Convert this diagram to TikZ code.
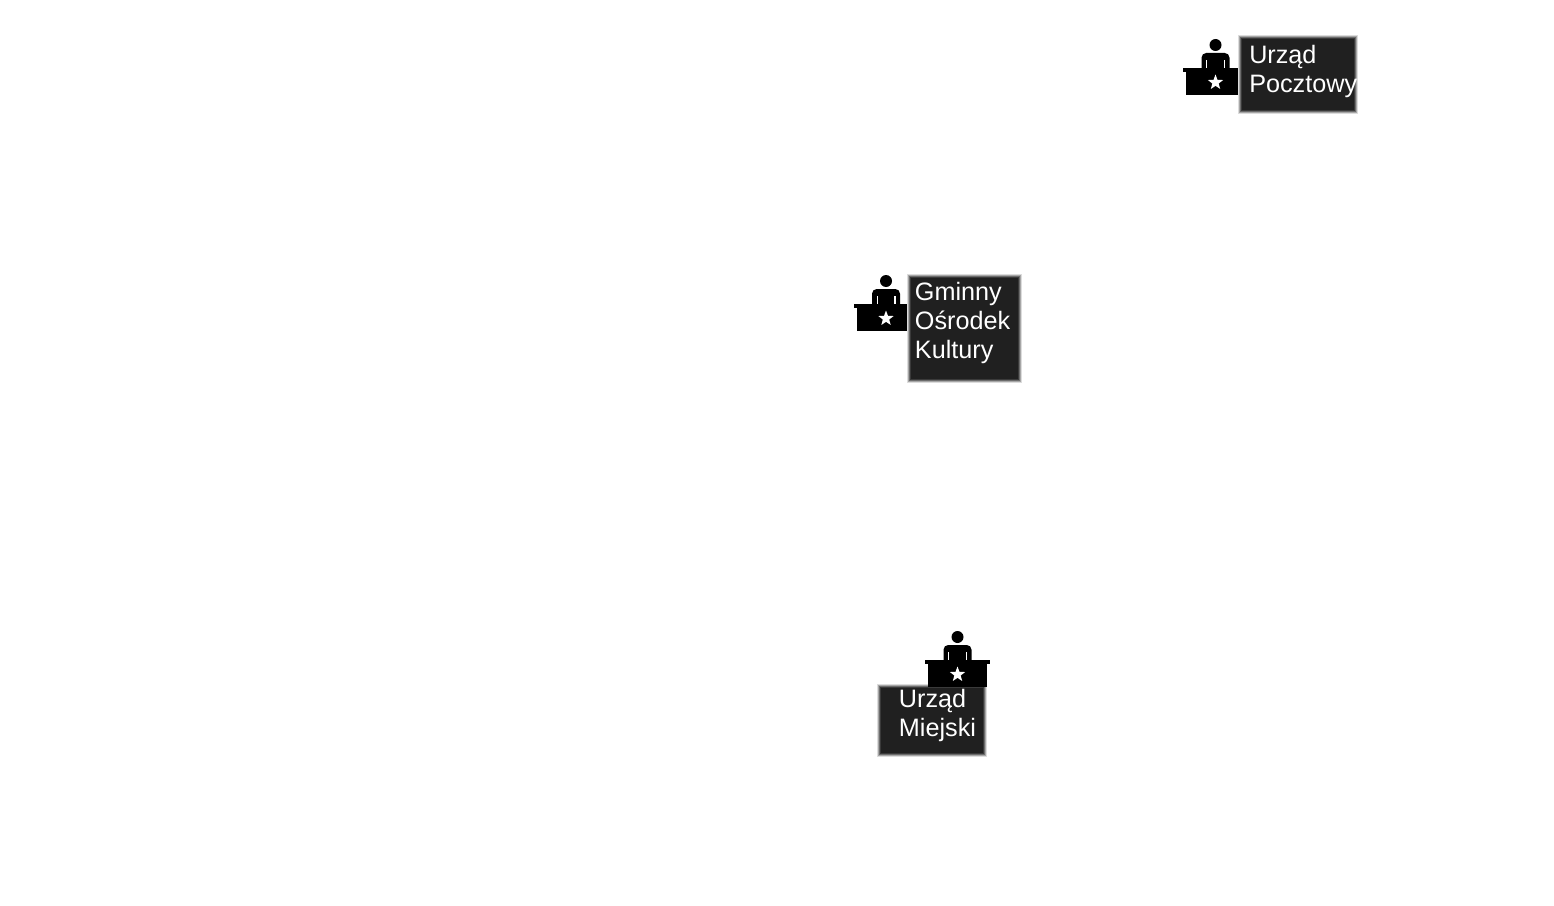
\documentclass[tikz,border=0pt]{standalone}
\usepackage{fontspec}
\setmainfont{Liberation Sans}
\usetikzlibrary{shapes.geometric}
\definecolor{boxdark}{HTML}{202020}
\definecolor{edgea}{HTML}{DCDCDC}
\definecolor{edgeb}{HTML}{A6A6A6}
\definecolor{edgec}{HTML}{6C6C6C}
\definecolor{edged}{HTML}{3A3A3A}
\tikzset{
  x=0.75pt,y=-0.75pt,
  lbl/.style={text=white,align=left,inner sep=0pt,anchor=north west,font=\fontsize{18.9pt}{21.75pt}\selectfont},
  deskstar/.style={star,star points=5,star point ratio=2.4,fill=white,draw=none,minimum size=12pt,inner sep=0pt},
  pics/clerk/.style={code={
    \fill[black] (0,0) circle[radius=6];
    \fill[black] (-14,24) -- (-14,13) [rounded corners=3.5pt] -- (-14,8) -- (14,8) [sharp corners] -- (14,13) -- (14,24) -- cycle;
    \fill[white] (-9.5,15) rectangle (-8.3,23);
    \fill[white] (8.3,15) rectangle (9.5,23);
    \fill[black] (-32.5,23) rectangle (32.5,27);
    \fill[black] (-29.5,27) rectangle (29.5,50);
    \node[deskstar] at (0,37.5) {};
  }}
}
\newcommand{\panel}[4]{%
  \fill[edgea] (#1,#2) rectangle (#3,#4);
  \fill[edgeb] (#1+1,#2+1) rectangle (#3-1,#4-1);
  \fill[edgec] (#1+2,#2+2) rectangle (#3-2,#4-2);
  \fill[edged] (#1+3,#2+3) rectangle (#3-3,#4-3);
  \fill[boxdark] (#1+4,#2+4) rectangle (#3-4,#4-4);
}
\begin{document}
\begin{tikzpicture}
\useasboundingbox (0,0) rectangle (1554,906);
\fill[white] (0,0) rectangle (1554,906);
\pic at (1215.5,45) {clerk};
\pic at (886,281) {clerk};
\panel{1237.5}{35.5}{1358}{114.5}
\panel{907}{273.5}{1022}{382.5}
\panel{876.5}{684}{986.5}{756.5}
\pic at (957.5,637) {clerk};
\node[lbl] (poczta) at (1249,45) {Urząd\\Pocztowy};
\node[lbl] (gok) at (914.7,282) {Gminny\\Ośrodek\\Kultury};
\node[lbl] (urzad) at (898.7,689) {Urząd\\Miejski};
\end{tikzpicture}
\end{document}
